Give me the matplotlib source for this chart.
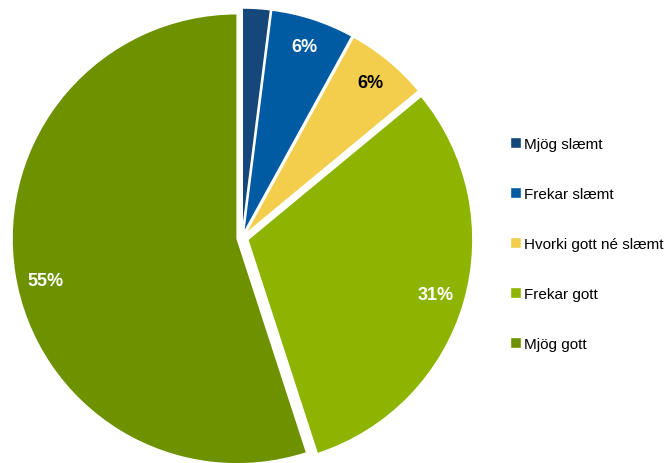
import matplotlib.pyplot as plt

# survey answers, clockwise from the top
categories = ['Mjög slæmt', 'Frekar slæmt', 'Hvorki gott né slæmt', 'Frekar gott', 'Mjög gott']
shares = [2, 6, 6, 31, 55]
colors = ['#15477a', '#005ba3', '#f3ce4d', '#8cb400', '#6e9100']
label_colors = ['white', 'white', 'black', 'white', 'white']
explode = [0.022, 0.022, 0.022, 0.027, 0.022]

plt.rcParams['font.family'] = ['Liberation Sans', 'DejaVu Sans']


def pct_label(pct):
    # the smallest slice has no label in the original
    if pct < 3:
        return ''
    return f'{pct:.0f}%'


def main():
    fig = plt.figure(figsize=(6.67, 4.64), dpi=100)
    ax = fig.add_axes([0, 0, 1, 1])

    wedges, texts, autotexts = ax.pie(
        shares, colors=colors, explode=explode, startangle=90, counterclock=False,
        radius=1, center=(0, 0), autopct=pct_label, pctdistance=0.875,
        wedgeprops=dict(edgecolor='white', linewidth=1.0),
        textprops=dict(fontsize=13, fontweight='bold'))
    for t, c in zip(autotexts, label_colors):
        t.set_color(c)

    # excel puts the two big labels a bit lower than the mid angle
    autotexts[3].set_position((0.86, -0.25))
    autotexts[4].set_position((-0.875, -0.19))

    # pie centre sits at about (242, 239) px, radius 225 px
    r = 225.0
    cx, cy = 242.0, 239.0
    ax.set_xlim(-cx / r, (667 - cx) / r)
    ax.set_ylim(-(464 - cy) / r, cy / r)
    ax.set_aspect('auto')
    ax.axis('off')

    fig.legend(wedges, categories, loc='center left',
               bbox_to_anchor=(510 / 667, 1 - 245 / 464),
               frameon=False, fontsize=11, handlelength=0.75, handleheight=0.75,
               handletextpad=0.15, labelspacing=2.35, borderpad=0, borderaxespad=0)

    fig.savefig('out.png', dpi=100)


if __name__ == "__main__":
    main()
